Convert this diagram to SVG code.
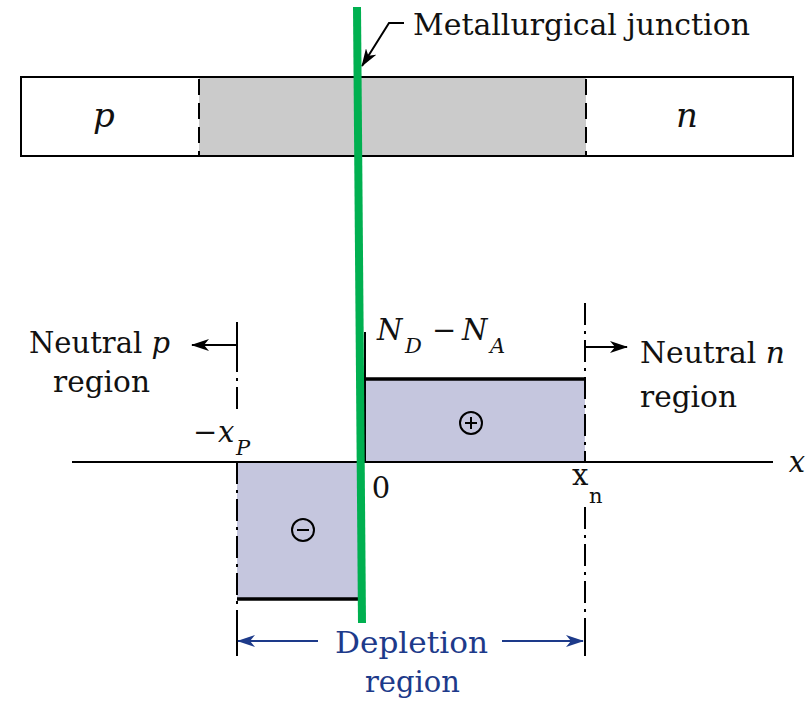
<svg xmlns="http://www.w3.org/2000/svg" width="812" height="704" viewBox="0 0 812 704">
<defs>
<marker id="ah" viewBox="0 0 18 12" refX="17" refY="6" markerWidth="18" markerHeight="12" markerUnits="userSpaceOnUse" orient="auto">
<path d="M0,0 L18,6 L0,12 L5,6 Z" fill="#000"/>
</marker>
<marker id="ahb" viewBox="0 0 18 12" refX="17" refY="6" markerWidth="18" markerHeight="12" markerUnits="userSpaceOnUse" orient="auto">
<path d="M0,0 L18,6 L0,12 L5,6 Z" fill="#1d3a8a"/>
</marker>
<style>
.t{font-family:"DejaVu Serif","Liberation Serif",serif;font-size:29px;fill:#111}
.i{font-style:italic}
.big{font-size:34px}
.sub{font-size:21px}
.blue{fill:#1d3a8a}
.ln{stroke:#000;stroke-width:2;fill:none}
.thick{stroke:#000;stroke-width:3.5;fill:none}
.dd{stroke:#000;stroke-width:2;fill:none;stroke-dasharray:22 6 3 6}
.dash{stroke:#000;stroke-width:2;fill:none;stroke-dasharray:16 8}
.charge{fill:#c5c6de}
</style>
</defs>
<rect width="812" height="704" fill="#fff"/>

<g id="bar">
<rect x="199" y="77" width="387" height="79" fill="#cbcbcb"/>
<rect x="21" y="77" width="772" height="79" class="ln"/>
<line x1="199" y1="77" x2="199" y2="156" class="dash" stroke-dashoffset="-2"/>
<line x1="586" y1="77" x2="586" y2="156" class="dash" stroke-dashoffset="-2"/>
</g>
<g id="p-region"><text x="104" y="127" class="t i big" text-anchor="middle">p</text></g>
<g id="n-region"><text x="687" y="127" class="t i big" text-anchor="middle">n</text></g>
<g id="junction-label"><text x="413" y="35" class="t" textLength="337" lengthAdjust="spacingAndGlyphs">Metallurgical junction</text></g>

<g id="positive-charge">
<rect x="365" y="379" width="220" height="83" class="charge"/>
<line x1="364" y1="379" x2="586" y2="379" class="thick"/>
<circle cx="471" cy="423" r="11" fill="none" stroke="#000" stroke-width="2"/>
<line x1="465" y1="423" x2="477" y2="423" class="ln" stroke-width="1.6"/>
<line x1="471" y1="417" x2="471" y2="429" class="ln" stroke-width="1.6"/>
</g>
<g id="negative-charge">
<rect x="237" y="462" width="122" height="137" class="charge"/>
<line x1="237" y1="599" x2="360" y2="599" class="thick"/>
<circle cx="303" cy="530" r="11" fill="none" stroke="#000" stroke-width="2"/>
<line x1="297" y1="530" x2="309" y2="530" class="ln" stroke-width="1.6"/>
</g>

<g id="axes">
<line x1="72" y1="462" x2="773" y2="462" class="ln"/>
<line x1="365" y1="332" x2="365" y2="462" class="ln"/>
<line x1="237" y1="322" x2="237" y2="350" class="ln"/>
<line x1="237" y1="350" x2="237" y2="414" class="dd"/>
<line x1="237" y1="462" x2="237" y2="620" class="dd"/>
<line x1="237" y1="620" x2="237" y2="656" class="ln"/>
<line x1="585" y1="303" x2="585" y2="462" class="dd"/>
<line x1="585" y1="507" x2="585" y2="620" class="dd"/>
<line x1="585" y1="620" x2="585" y2="656" class="ln"/>
</g>

<g id="labels">
<text x="797" y="472" class="t i" text-anchor="middle">x</text>
<text x="381" y="498" class="t" text-anchor="middle">0</text>
<text x="377" y="340" class="t i">N</text>
<text x="405" y="353" class="t i sub">D</text>
<text x="432" y="340" class="t">−</text>
<text x="462" y="340" class="t i">N</text>
<text x="490" y="353" class="t i sub">A</text>
<text x="193" y="442" class="t">−</text>
<text x="218" y="442" class="t i">x</text>
<text x="236" y="455" class="t i sub">P</text>
<text x="572" y="485" class="t">x</text>
<text x="589" y="503" class="t sub">n</text>
</g>
<g id="neutral-p"><text x="29" y="353" class="t" textLength="141" lengthAdjust="spacingAndGlyphs">Neutral <tspan class="i">p</tspan></text>
<text x="53" y="392" class="t" textLength="97" lengthAdjust="spacingAndGlyphs">region</text></g>
<g id="neutral-n"><text x="640" y="363" class="t" textLength="145" lengthAdjust="spacingAndGlyphs">Neutral <tspan class="i">n</tspan></text>
<text x="640" y="407" class="t" textLength="97" lengthAdjust="spacingAndGlyphs">region</text></g>
<g id="depletion"><text x="335" y="653" class="t blue" textLength="153" lengthAdjust="spacingAndGlyphs">Depletion</text>
<text x="365" y="692" class="t blue" textLength="95" lengthAdjust="spacingAndGlyphs">region</text></g>

<g id="connectors">
<polyline points="404,23 389,23 362,66" class="ln" marker-end="url(#ah)"/>
<line x1="237" y1="345" x2="192" y2="345" class="ln" marker-end="url(#ah)"/>
<line x1="585" y1="347" x2="627" y2="347" class="ln" marker-end="url(#ah)"/>
<line x1="318" y1="641" x2="238" y2="641" stroke="#1d3a8a" stroke-width="2" marker-end="url(#ahb)"/>
<line x1="502" y1="641" x2="583" y2="641" stroke="#1d3a8a" stroke-width="2" marker-end="url(#ahb)"/>
</g>

<g id="metallurgical-junction-line">
<line x1="357" y1="7" x2="362" y2="623" stroke="#00b050" stroke-width="8"/>
</g>
</svg>
